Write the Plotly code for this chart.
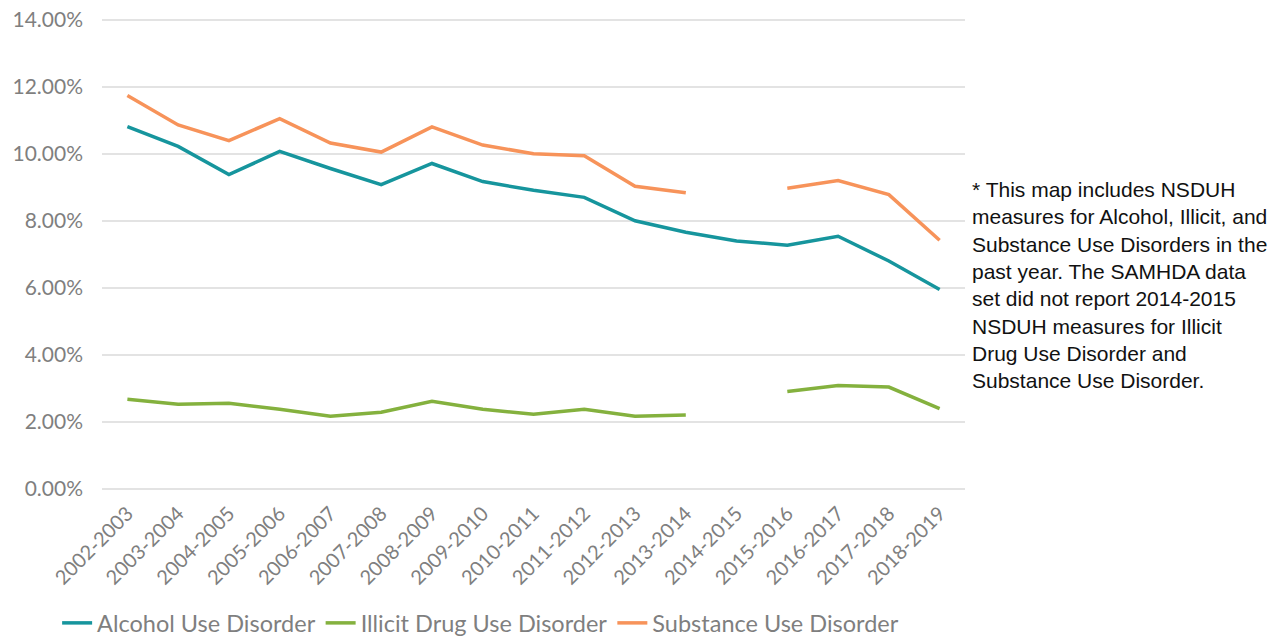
import plotly.graph_objects as go

periods = ["2002-2003", "2003-2004", "2004-2005", "2005-2006", "2006-2007", "2007-2008",
           "2008-2009", "2009-2010", "2010-2011", "2011-2012", "2012-2013", "2013-2014",
           "2014-2015", "2015-2016", "2016-2017", "2017-2018", "2018-2019"]

alcohol = [10.81, 10.22, 9.38, 10.07, 9.56, 9.08, 9.71, 9.17, 8.91, 8.70, 8.00, 7.66,
           7.40, 7.27, 7.54, 6.80, 5.95]
illicit = [2.68, 2.53, 2.56, 2.38, 2.17, 2.29, 2.62, 2.38, 2.23, 2.38, 2.17, 2.21,
           None, 2.91, 3.09, 3.04, 2.40]
substance = [11.74, 10.86, 10.39, 11.05, 10.32, 10.05, 10.80, 10.26, 10.00, 9.94, 9.03, 8.84,
             None, 8.97, 9.20, 8.78, 7.42]

y_ticks = [0, 2, 4, 6, 8, 10, 12, 14]
y_labels = ["0.00%", "2.00%", "4.00%", "6.00%", "8.00%", "10.00%", "12.00%", "14.00%"]

note = ("* This map includes NSDUH<br>measures for Alcohol, Illicit, and<br>"
        "Substance Use Disorders in the<br>past year. The SAMHDA data<br>"
        "set did not report 2014-2015<br>NSDUH measures for Illicit<br>"
        "Drug Use Disorder and<br>Substance Use Disorder.")

font_fam = "Lato, 'Open Sans', sans-serif"

fig = go.Figure()
fig.add_trace(go.Scatter(x=periods, y=alcohol, mode="lines", name="Alcohol Use Disorder",
                         line=dict(color="#16959D", width=3.5)))
fig.add_trace(go.Scatter(x=periods, y=illicit, mode="lines", name="Illicit Drug Use Disorder",
                         line=dict(color="#84B13E", width=3.5), connectgaps=False))
fig.add_trace(go.Scatter(x=periods, y=substance, mode="lines", name="Substance Use Disorder",
                         line=dict(color="#F7935A", width=3.5), connectgaps=False))

fig.update_layout(
    width=1284, height=639,
    margin=dict(l=102, r=319, t=18, b=150, autoexpand=False),
    plot_bgcolor="white", paper_bgcolor="white",
    font=dict(family=font_fam, color="#7F7F7F", size=20),
    xaxis=dict(type="category", range=[-0.5, 16.5], tickangle=-45, showgrid=False,
               showline=False, automargin=False, ticklabelstandoff=8,
               tickfont=dict(size=20, color="#7F7F7F"), ticks="", ticklen=0),
    yaxis=dict(range=[0, 14.05], tickvals=y_ticks, ticktext=y_labels, showgrid=True,
               automargin=False,
               gridcolor="#E3E3E3", gridwidth=1.5, zeroline=True, zerolinecolor="#E3E3E3",
               zerolinewidth=1.5, tickfont=dict(size=21, color="#7F7F7F"), ticklabelstandoff=18),
    legend=dict(orientation="h", x=-0.052, y=-0.238, xanchor="left", yanchor="top",
                font=dict(size=23.5, color="#7F7F7F"), tracegroupgap=0),
    showlegend=True,
)

fig.add_annotation(text=note, xref="paper", yref="paper", x=1.0058, y=0.665,
                   xanchor="left", yanchor="top", showarrow=False, align="left",
                   font=dict(family="Liberation Sans, Arial, sans-serif", size=21, color="#111111"))

fig.write_html("out.html")
